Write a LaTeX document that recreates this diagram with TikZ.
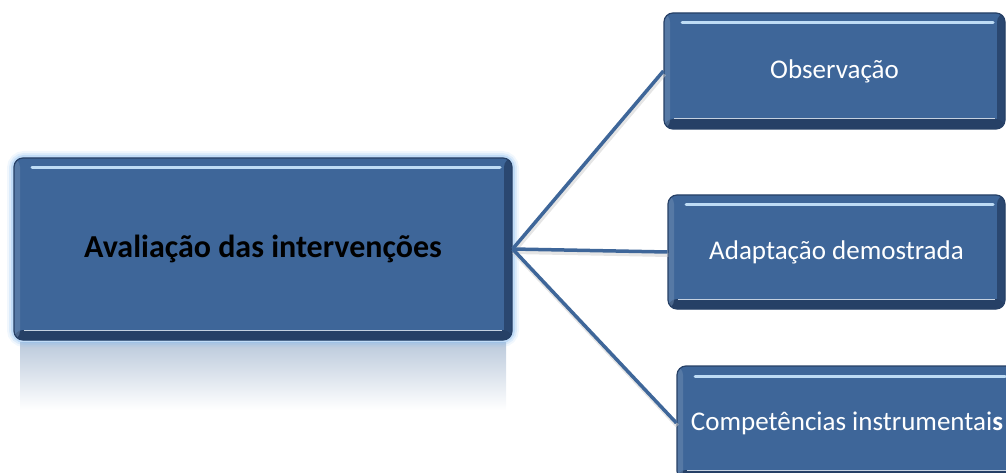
\documentclass[tikz,border=0pt]{standalone}
\usepackage{fontspec}
\setmainfont{Carlito}
\definecolor{boxblue}{RGB}{62,102,153}
\definecolor{boxdark}{RGB}{38,64,102}
\definecolor{boxlight}{RGB}{190,220,245}
\definecolor{glowblue}{RGB}{140,190,240}
\tikzset{
	bevelbox/.style={rounded corners=9pt, fill=boxblue, draw=boxdark, line width=1.2pt, inner sep=0pt,
		text=white, font=\fontsize{27}{32}\selectfont,
		path picture={
			\fill[boxdark] ([yshift=10pt]path picture bounding box.south west) rectangle (path picture bounding box.south east);
			\fill[boxdark, opacity=0.8] ([xshift=-8pt]path picture bounding box.south east) rectangle (path picture bounding box.north east);
			\fill[boxblue!75!white, opacity=0.5] (path picture bounding box.south west) rectangle ([xshift=6pt]path picture bounding box.north west);
			\draw[boxlight, line width=3pt, line cap=round] ([shift={(18pt,-10pt)}]path picture bounding box.north west) -- ([shift={(-12pt,-10pt)}]path picture bounding box.north east);
			\draw[white!70!boxblue, line width=1pt] ([shift={(10pt,10pt)}]path picture bounding box.south west) -- ([shift={(-10pt,10pt)}]path picture bounding box.south east);
		}},
	link/.style={draw=boxblue, line width=3.5pt},
	linkshade/.style={draw=gray!40, line width=4pt, opacity=0.5}
}
\begin{document}
\begin{tikzpicture}[x=1pt, y=-1pt]
	\useasboundingbox (0, 0) rectangle (1006, 473);
	\clip (0, 0) rectangle (1006, 473);
	% reflection and glow of the main box
	\shade[top color=boxblue!35!white, bottom color=white] (20, 342) rectangle (506, 410);
	\foreach \w/\o in {14/0.12, 10/0.2, 6/0.35}
		\draw[glowblue, line width=\w pt, opacity=\o, rounded corners=10pt] (14, 158) rectangle (512, 340);
	\node[bevelbox, minimum width=498pt, minimum height=182pt, text=black, font=\fontsize{32}{38}\selectfont\bfseries] (main) at (263, 249) {Avaliação das intervenções};
	\node[bevelbox, minimum width=341pt, minimum height=116pt] (obs) at (834.5, 71) {Observação};
	\node[bevelbox, minimum width=337pt, minimum height=114pt] (adapt) at (836.5, 252) {Adaptação demostrada};
	\node[bevelbox, minimum width=340pt, minimum height=114pt] (comp) at (847, 423) {Competências instrumentai\textbf{s}};
	\foreach \t in {obs, adapt, comp}
		\draw[linkshade] ([shift={(1pt,-3pt)}]main.east) -- ([shift={(1pt,-3pt)}]\t.west);
	\foreach \t in {obs, adapt, comp}
		\draw[link] (main.east) -- (\t.west);
\end{tikzpicture}
\end{document}
